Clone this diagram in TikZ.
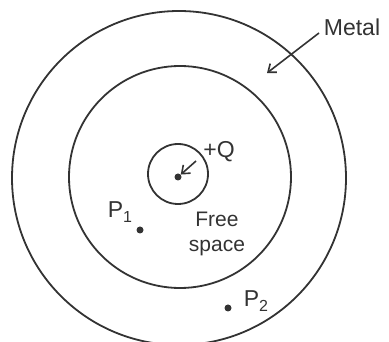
\documentclass[tikz,border=0pt]{standalone}
\usepackage{fontspec}
\setmainfont{Liberation Sans}
\usetikzlibrary{arrows.meta}
\definecolor{ink}{HTML}{333333}
\newcommand{\mysub}[1]{{\fontsize{16}{16}\selectfont\raisebox{-5pt}{#1}}}
\begin{document}
\begin{tikzpicture}[x=1pt,y=-1pt,
  ring/.style={circle, draw=ink, line width=1.8pt, inner sep=0pt},
  lbl/.style={text=ink, font=\fontsize{23}{25}\selectfont, inner sep=0pt},
  dotpt/.style={circle, fill=ink, inner sep=0pt, minimum size=7pt},
  arr/.style={draw=ink, line width=1.6pt, -{Straight Barb[length=7pt,width=11pt,line width=1.6pt]}}]
\useasboundingbox (0,0) rectangle (389,342);
\node[ring, minimum size=334pt] (outer) at (179,178) {};
\node[ring, minimum size=222pt] (inner) at (180,177) {};
\node[ring, minimum size=60pt] (core) at (178,174) {};
\node[dotpt] (q) at (178,177) {};
\node[dotpt] (p1) at (140,230) {};
\node[dotpt] (p2) at (228,308) {};
\node[lbl] (qlbl) at (219,152) {+Q};
\node[lbl] (metal) at (352,27) {Metal};
\node[lbl] (p1lbl) at (120,212) {P\mysub{1}};
\node[lbl] (p2lbl) at (256,301) {P\mysub{2}};
\node[lbl, align=center, font=\fontsize{21}{25}\selectfont] (free) at (217,234) {Free\\space};
\coordinate (qtail) at (196,161);
\coordinate (mtail) at (319,33);
\coordinate (mhead) at (267,73);
\draw[arr] (qtail) -- (q);
\draw[arr] (mtail) -- (mhead);
\end{tikzpicture}
\end{document}
